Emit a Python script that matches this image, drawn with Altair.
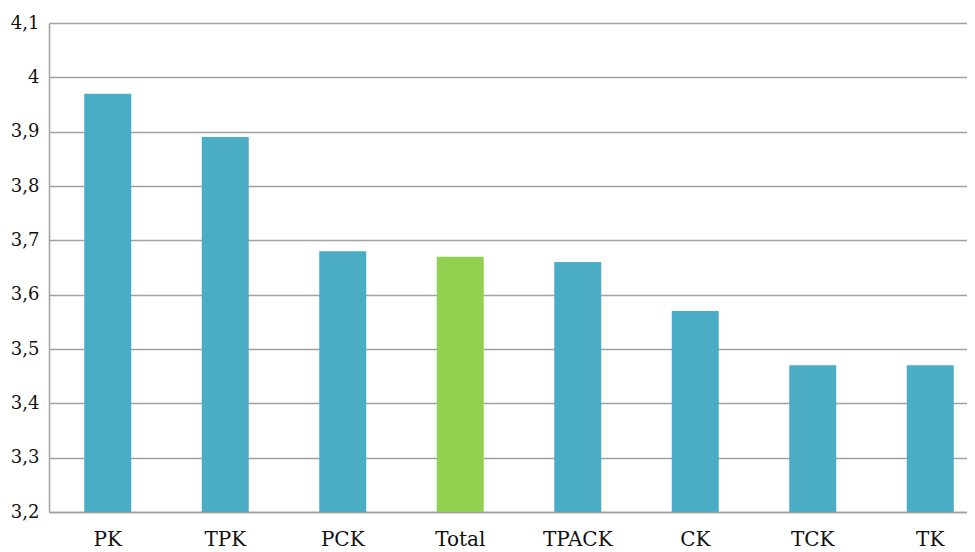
import altair as alt
import pandas as pd

categories = ["PK", "TPK", "PCK", "Total", "TPACK", "CK", "TCK", "TK"]
values = [3.97, 3.89, 3.68, 3.67, 3.66, 3.57, 3.47, 3.47]
colors = ["#4BACC6", "#4BACC6", "#4BACC6", "#92D050", "#4BACC6", "#4BACC6", "#4BACC6", "#4BACC6"]
y_ticks = [3.2, 3.3, 3.4, 3.5, 3.6, 3.7, 3.8, 3.9, 4.0, 4.1]

df = pd.DataFrame({"cat": categories, "val": values, "color": colors})

font = "DejaVu Serif"

chart = alt.Chart(df).mark_bar(clip=True).encode(
    x=alt.X("cat:N", sort=categories, title=None,
            scale=alt.Scale(paddingInner=0.6, paddingOuter=0.3, range=[0, 940]),
            axis=alt.Axis(labelAngle=0, ticks=False, domainColor="#A0A0A0", domainWidth=1.5,
                          labelFont=font, labelFontSize=20, labelColor="#111111",
                          labelPadding=17, grid=False)),
    y=alt.Y("val:Q", title=None,
            scale=alt.Scale(domain=[3.2, 4.1], zero=False, nice=False),
            axis=alt.Axis(values=y_ticks, ticks=False, domainColor="#A0A0A0", domainWidth=1.5,
                          gridColor="#A0A0A0", gridWidth=1.5,
                          labelExpr="replace(format(datum.value, '.1~f'), '.', ',')",
                          labelFont=font, labelFontSize=18, labelColor="#111111",
                          labelPadding=10)),
    color=alt.Color("color:N", scale=None),
).properties(
    width=918, height=489,
    autosize=alt.AutoSizeParams(type="none"),
    padding={"left": 41, "top": 15, "right": 0, "bottom": 44},
).configure_view(stroke=None)

chart.save("out.html", embed_options={"renderer": "svg", "actions": False})
